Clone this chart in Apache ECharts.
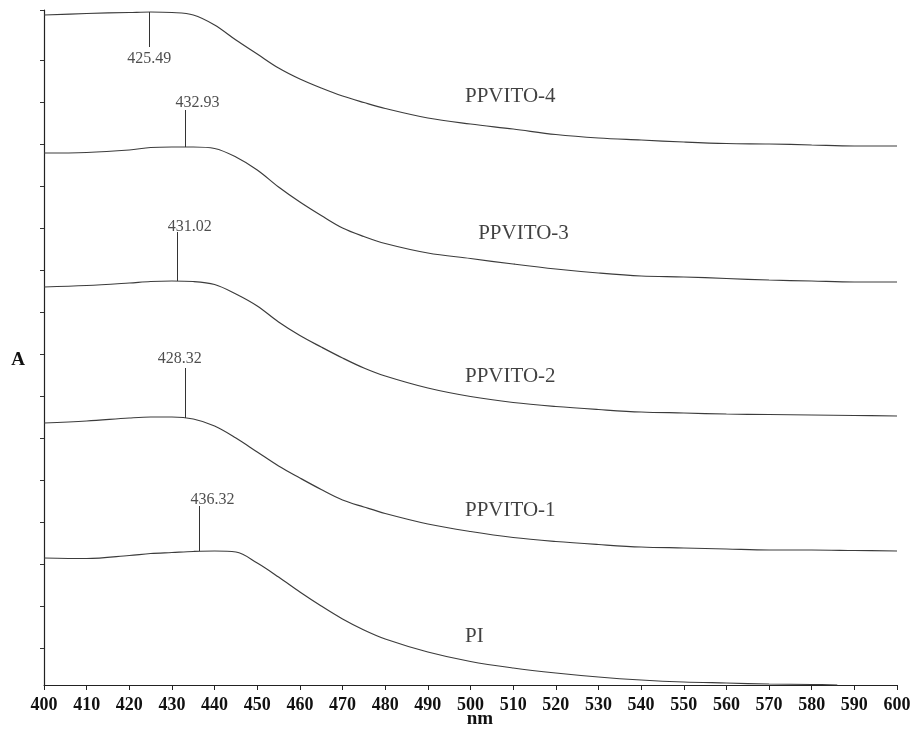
<!DOCTYPE html>
<html>
<head>
<meta charset="utf-8">
<script src="https://cdn.jsdelivr.net/npm/echarts@6/dist/echarts.min.js"></script>
<style>
html,body{margin:0;padding:0;background:#fff;}
#chart{width:917px;height:731px;}
</style>
</head>
<body>
<div id="chart"></div>
<script>
// ---- data (wavelength in nm, absorbance in arbitrary stacked units) ----
const xTicks = { min: 400, max: 600, step: 10 };
const wavelengths = [400,410,420,425,430,435,440,445,450,455,460,465,470,475,480,490,500,510,520,530,540,550,560,570,580,590,600];
const ppvito4 = [6.70,6.715,6.725,6.73,6.725,6.70,6.60,6.45,6.31,6.17,6.06,5.97,5.89,5.825,5.765,5.67,5.61,5.56,5.505,5.47,5.45,5.43,5.415,5.41,5.40,5.39,5.39];
const ppvito3 = [5.32,5.325,5.35,5.375,5.38,5.38,5.365,5.28,5.15,4.98,4.83,4.695,4.57,4.485,4.415,4.32,4.265,4.21,4.16,4.12,4.09,4.08,4.065,4.05,4.04,4.03,4.03];
const ppvito2 = [3.98,3.995,4.02,4.035,4.04,4.035,4.005,3.91,3.79,3.63,3.495,3.38,3.27,3.17,3.09,2.97,2.885,2.825,2.785,2.755,2.73,2.72,2.71,2.705,2.70,2.695,2.69];
const ppvito1 = [2.62,2.64,2.67,2.68,2.68,2.66,2.59,2.47,2.33,2.19,2.07,1.955,1.85,1.78,1.715,1.61,1.535,1.475,1.435,1.405,1.38,1.37,1.36,1.35,1.35,1.345,1.34];
const wavelengthsPI = [400,410,420,425,430,435,440,445,450,455,460,465,470,475,480,490,500,510,520,530,540,550,560,570,580,586];
const pi = [1.27,1.265,1.295,1.315,1.325,1.335,1.34,1.33,1.22,1.08,0.93,0.79,0.66,0.55,0.46,0.33,0.235,0.17,0.12,0.08,0.05,0.03,0.02,0.01,0.005,0];

const yTickValues = [0.37,0.79,1.21,1.63,2.05,2.47,2.89,3.31,3.73,4.15,4.57,4.99,5.41,5.83,6.25,6.75];

const seriesNames = ['PI','PPVITO-1','PPVITO-2','PPVITO-3','PPVITO-4'];
const nameX = [498.7,498.7,498.7,501.8,498.7];
const nameY = [0.49,1.75,3.085,4.515,5.885];

const peakLabels = ['436.32','428.32','431.02','432.93','425.49'];
const peakLineX = [436.4,433.1,431.2,433.1,424.6];
const peakLineFrom = [1.34,2.67,4.04,5.38,6.73];
const peakLineTo = [1.79,3.17,4.53,5.75,6.38];
const peakLabelX = [439.5,431.8,434.2,436.0,424.7];
const peakLabelY = [1.85,3.26,4.58,5.82,6.26];

// ---- build ----
const curveColor = '#3c3c3c';
function pairs(xs, ys){ return xs.map((x,i)=>[x, ys[i]]); }
const curves = [
  pairs(wavelengthsPI, pi),
  pairs(wavelengths, ppvito1),
  pairs(wavelengths, ppvito2),
  pairs(wavelengths, ppvito3),
  pairs(wavelengths, ppvito4)
];
const serif = "'Liberation Serif','Times New Roman',serif";

const series = curves.map((d,i)=>({
  name: seriesNames[i],
  type: 'line',
  data: d,
  showSymbol: false,
  smooth: 0.35,
  lineStyle: { color: curveColor, width: 1.2 },
  silent: true
}));

series.push({
  name: 'peaks',
  type: 'scatter',
  symbolSize: 0,
  data: peakLabels.map((t,i)=>[peakLabelX[i], peakLabelY[i], t]),
  label: {
    show: true, position: 'inside', formatter: p => p.value[2],
    fontFamily: serif, fontSize: 16, color: '#222'
  },
  markLine: {
    silent: true,
    symbol: ['none','none'],
    lineStyle: { color: '#333', width: 1, type: 'solid' },
    label: { show: false },
    data: peakLineX.map((x,i)=>[{coord:[x, peakLineFrom[i]]},{coord:[x, peakLineTo[i]]}])
  },
  silent: true
});

series.push({
  name: 'names',
  type: 'scatter',
  symbolSize: 0,
  data: seriesNames.map((t,i)=>[nameX[i], nameY[i], t]),
  label: {
    show: true, position: 'inside', align: 'left', verticalAlign: 'middle',
    formatter: p => p.value[2],
    fontFamily: serif, fontSize: 21, color: '#111'
  },
  silent: true
});

const chart = echarts.init(document.getElementById('chart'), null, {renderer: 'canvas'});
chart.setOption({
  animation: false,
  backgroundColor: '#fff',
  grid: { left: 44, right: 20, top: 10, bottom: 46, containLabel: false, outerBoundsMode: 'none' },
  xAxis: {
    type: 'value', min: xTicks.min, max: xTicks.max, interval: xTicks.step,
    name: 'nm', nameLocation: 'middle', nameGap: 25, nameMoveOverlap: false,
    nameTextStyle: { fontFamily: serif, fontWeight: 'bold', fontSize: 19, color: '#111', padding: [0,0,0,19] },
    axisLine: { show: true, lineStyle: { color: '#222', width: 1 } },
    axisTick: { show: true, length: 5, inside: false, lineStyle: { color: '#222' } },
    axisLabel: { margin: 11, fontFamily: serif, fontWeight: 'bold', fontSize: 18, color: '#111' },
    splitLine: { show: false }
  },
  yAxis: {
    type: 'value', min: 0, max: 6.75,
    name: 'A', nameLocation: 'middle', nameRotate: 0, nameGap: 19, nameMoveOverlap: false,
    nameTextStyle: { fontFamily: serif, fontWeight: 'bold', fontSize: 19, color: '#111', verticalAlign: 'top', padding: [3,0,0,0] },
    axisLine: { show: true, lineStyle: { color: '#222', width: 1.2 } },
    axisTick: { show: true, length: 4, inside: false, customValues: yTickValues, lineStyle: { color: '#333' } },
    axisLabel: { show: false, customValues: yTickValues },
    splitLine: { show: false }
  },
  series: series
});
</script>
</body>
</html>
